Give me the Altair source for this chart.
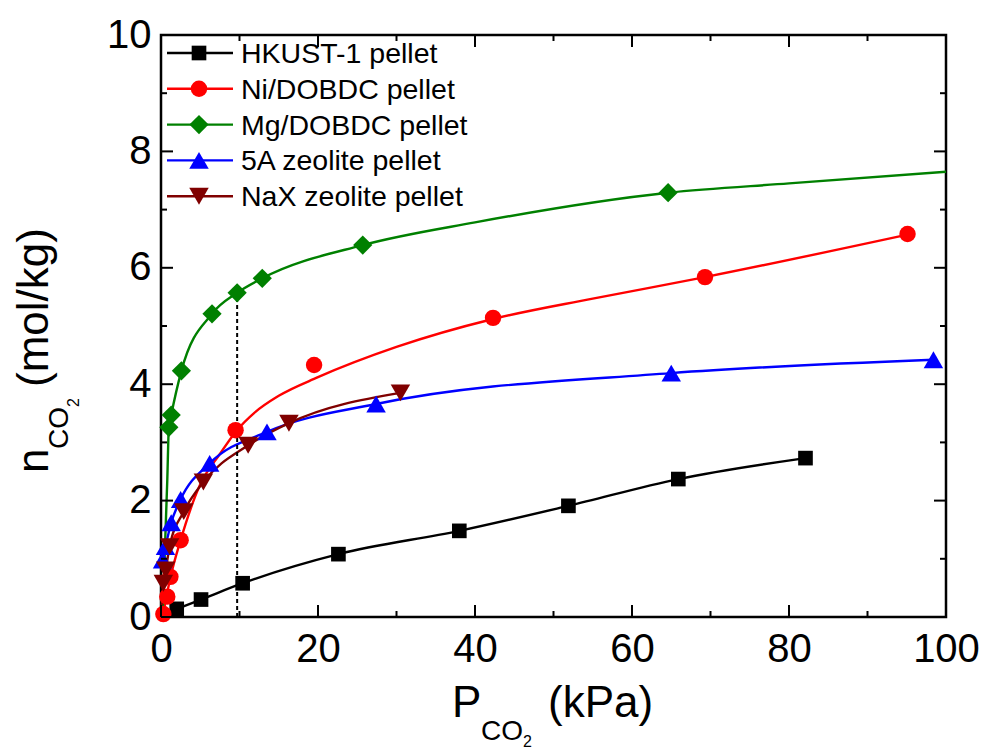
import altair as alt
import pandas as pd

FONT = "Liberation Sans"

series = ["HKUST-1 pellet", "Ni/DOBDC pellet", "Mg/DOBDC pellet", "5A zeolite pellet", "NaX zeolite pellet"]
colors = ["#000000", "#FF0000", "#008000", "#0000FF", "#800000"]
shapes = ["square", "circle", "diamond", "triangle-up", "triangle-down"]
sizes = [215, 270, 370, 380, 380]

# measured points (P in kPa, n in mol/kg)
hk_p = [2.0, 5.1, 10.4, 22.6, 38.0, 51.9, 65.9, 82.1]
hk_n = [0.14, 0.30, 0.58, 1.08, 1.48, 1.91, 2.37, 2.73]
ni_p = [0.3, 0.8, 1.2, 2.5, 9.5, 19.5, 42.3, 69.3, 95.1]
ni_n = [0.05, 0.35, 0.69, 1.32, 3.21, 4.33, 5.14, 5.84, 6.58]
mg_p = [1.0, 1.3, 2.6, 6.5, 9.7, 12.9, 25.7, 64.6]
mg_n = [3.26, 3.47, 4.23, 5.21, 5.57, 5.82, 6.39, 7.29]
za_p = [0.2, 0.57, 1.3, 2.5, 6.2, 13.5, 27.4, 65.0, 98.4]
za_n = [0.98, 1.21, 1.62, 2.02, 2.64, 3.18, 3.66, 4.19, 4.42]
nx_p = [0.3, 0.6, 1.1, 2.9, 5.4, 11.1, 16.3, 30.5]
nx_n = [0.58, 0.81, 1.21, 1.81, 2.32, 2.95, 3.33, 3.85]

# fitted curves
hk_fit_p = [2.0, 5.1, 10.4, 22.6, 38.0, 51.9, 65.9, 82.1]
hk_fit_n = [0.14, 0.30, 0.58, 1.08, 1.48, 1.91, 2.37, 2.73]
ni_fit_p = [0.2, 1.2, 2.5, 5.0, 7.5, 9.5, 12.0, 15.0, 20.0, 30.0, 42.3, 55.0, 69.3, 95.1]
ni_fit_n = [0.0, 0.68, 1.32, 2.28, 2.80, 3.18, 3.52, 3.80, 4.12, 4.64, 5.12, 5.47, 5.84, 6.57]
mg_fit_p = [0.2, 0.8, 1.0, 1.3, 2.6, 6.5, 9.7, 12.9, 25.7, 40.0, 64.6, 80.0, 100.0]
mg_fit_n = [0.0, 2.35, 3.26, 3.47, 4.23, 5.21, 5.57, 5.82, 6.39, 6.78, 7.29, 7.45, 7.65]
za_fit_p = [0.2, 0.57, 1.3, 2.5, 6.2, 13.5, 27.4, 65.0, 98.4]
za_fit_n = [0.98, 1.21, 1.62, 2.02, 2.64, 3.18, 3.66, 4.19, 4.42]
nx_fit_p = [0.1, 0.3, 0.6, 1.1, 2.9, 5.4, 11.1, 16.3, 30.5]
nx_fit_n = [0.2, 0.58, 0.81, 1.21, 1.81, 2.32, 2.95, 3.33, 3.85]

dash_p = 9.7
dash_top = 5.57

x_major = [0, 20, 40, 60, 80, 100]
x_minor = [10, 30, 50, 70, 90]
y_major = [0, 2, 4, 6, 8, 10]
y_minor = [1, 3, 5, 7, 9]

W, H = 785, 582

pts_list = [(hk_p, hk_n), (ni_p, ni_n), (mg_p, mg_n), (za_p, za_n), (nx_p, nx_n)]
fit_list = [(hk_fit_p, hk_fit_n), (ni_fit_p, ni_fit_n), (mg_fit_p, mg_fit_n),
            (za_fit_p, za_fit_n), (nx_fit_p, nx_fit_n)]

xscale = alt.Scale(domain=[0, 100], nice=False, zero=False)
yscale = alt.Scale(domain=[0, 10], nice=False, zero=False)

xaxis = alt.Axis(values=x_major, title=None, ticks=False, domain=False, grid=False,
                 labelFontSize=40, labelFont=FONT, labelColor="black", labelPadding=12,
                 labelFlush=False, labelOverlap=False, format="d")
yaxis = alt.Axis(values=y_major, title=None, ticks=False, domain=False, grid=False,
                 labelFontSize=40, labelFont=FONT, labelColor="black", labelPadding=10,
                 labelOverlap=False, format="d")

layers = []

# fit lines
for i, (fp, fn) in enumerate(fit_list):
    df = pd.DataFrame({"p": fp, "n": fn})
    layers.append(
        alt.Chart(df).mark_line(interpolate="monotone", color=colors[i], strokeWidth=2.4).encode(
            x=alt.X("p:Q", scale=xscale, axis=xaxis),
            y=alt.Y("n:Q", scale=yscale, axis=yaxis),
        )
    )

# dashed marker line
dash_df = pd.DataFrame({"p": [dash_p], "n0": [0], "n1": [dash_top]})
layers.append(
    alt.Chart(dash_df).mark_rule(color="black", strokeWidth=2, strokeDash=[4, 3]).encode(
        x=alt.X("p:Q", scale=xscale), y=alt.Y("n0:Q", scale=yscale), y2="n1:Q"
    )
)

# points
for i, (pp, pn) in enumerate(pts_list):
    df = pd.DataFrame({"p": pp, "n": pn})
    layers.append(
        alt.Chart(df).mark_point(shape=shapes[i], filled=True, opacity=1, color=colors[i],
                                 size=sizes[i], strokeWidth=0).encode(
            x=alt.X("p:Q", scale=xscale),
            y=alt.Y("n:Q", scale=yscale),
        )
    )

# inward ticks on all four sides
def yticks(vals, length):
    df = pd.DataFrame({"v": vals})
    base = alt.Chart(df).mark_rule(color="black", strokeWidth=2)
    return [
        base.encode(y=alt.Y("v:Q", scale=yscale), x=alt.value(0), x2=alt.value(length)),
        base.encode(y=alt.Y("v:Q", scale=yscale), x=alt.value(W - length), x2=alt.value(W)),
    ]

def xticks(vals, length):
    df = pd.DataFrame({"v": vals})
    base = alt.Chart(df).mark_rule(color="black", strokeWidth=2)
    return [
        base.encode(x=alt.X("v:Q", scale=xscale), y=alt.value(H - length), y2=alt.value(H)),
        base.encode(x=alt.X("v:Q", scale=xscale), y=alt.value(0), y2=alt.value(length)),
    ]

layers += yticks(y_major, 12) + yticks(y_minor, 6) + xticks(x_major, 12) + xticks(x_minor, 6)

# legend
for i, s in enumerate(series):
    yp = 18 + 35.8 * i
    ldf = pd.DataFrame({"label": [s]})
    layers.append(alt.Chart(ldf).mark_rule(color=colors[i], strokeWidth=2.4).encode(
        x=alt.value(6), x2=alt.value(72), y=alt.value(yp)))
    layers.append(alt.Chart(ldf).mark_point(shape=shapes[i], filled=True, opacity=1, color=colors[i],
                                            size=sizes[i], strokeWidth=0).encode(
        x=alt.value(38), y=alt.value(yp)))
    layers.append(alt.Chart(ldf).mark_text(align="left", baseline="middle", fontSize=28.5, font=FONT,
                                           color="black").encode(
        text="label:N", x=alt.value(80), y=alt.value(yp + 1)))

# axis titles with subscripts
def txt(t, x, y, size, angle=0):
    kw = dict(align="left", baseline="alphabetic", fontSize=size, font=FONT, color="black")
    if angle:
        kw["angle"] = angle
    return alt.Chart(pd.DataFrame({"t": [t]})).mark_text(**kw).encode(
        text="t:N", x=alt.value(x), y=alt.value(y))

# x title: P_CO2 (kPa)
layers.append(txt("P", 291, 682, 44))
layers.append(txt("CO", 320, 705, 28))
layers.append(txt("2", 362, 712, 16))
layers.append(txt("(kPa)", 387, 682, 44))

# y title: n_CO2 (mol/kg)
layers.append(txt("n", -113, 438, 44, 270))
layers.append(txt("CO", -93, 414, 28, 270))
layers.append(txt("2", -82, 372, 16, 270))
layers.append(txt("(mol/kg)", -113, 352, 44, 270))

chart = alt.layer(*layers).properties(
    width=W, height=H,
    padding={"left": 161, "top": 35, "right": 45, "bottom": 132},
    autosize=alt.AutoSizeParams(type="none"),
    background="white",
).configure_view(stroke="black", strokeWidth=2.5)

chart.save("out.html", embed_options={"renderer": "svg", "actions": False})
